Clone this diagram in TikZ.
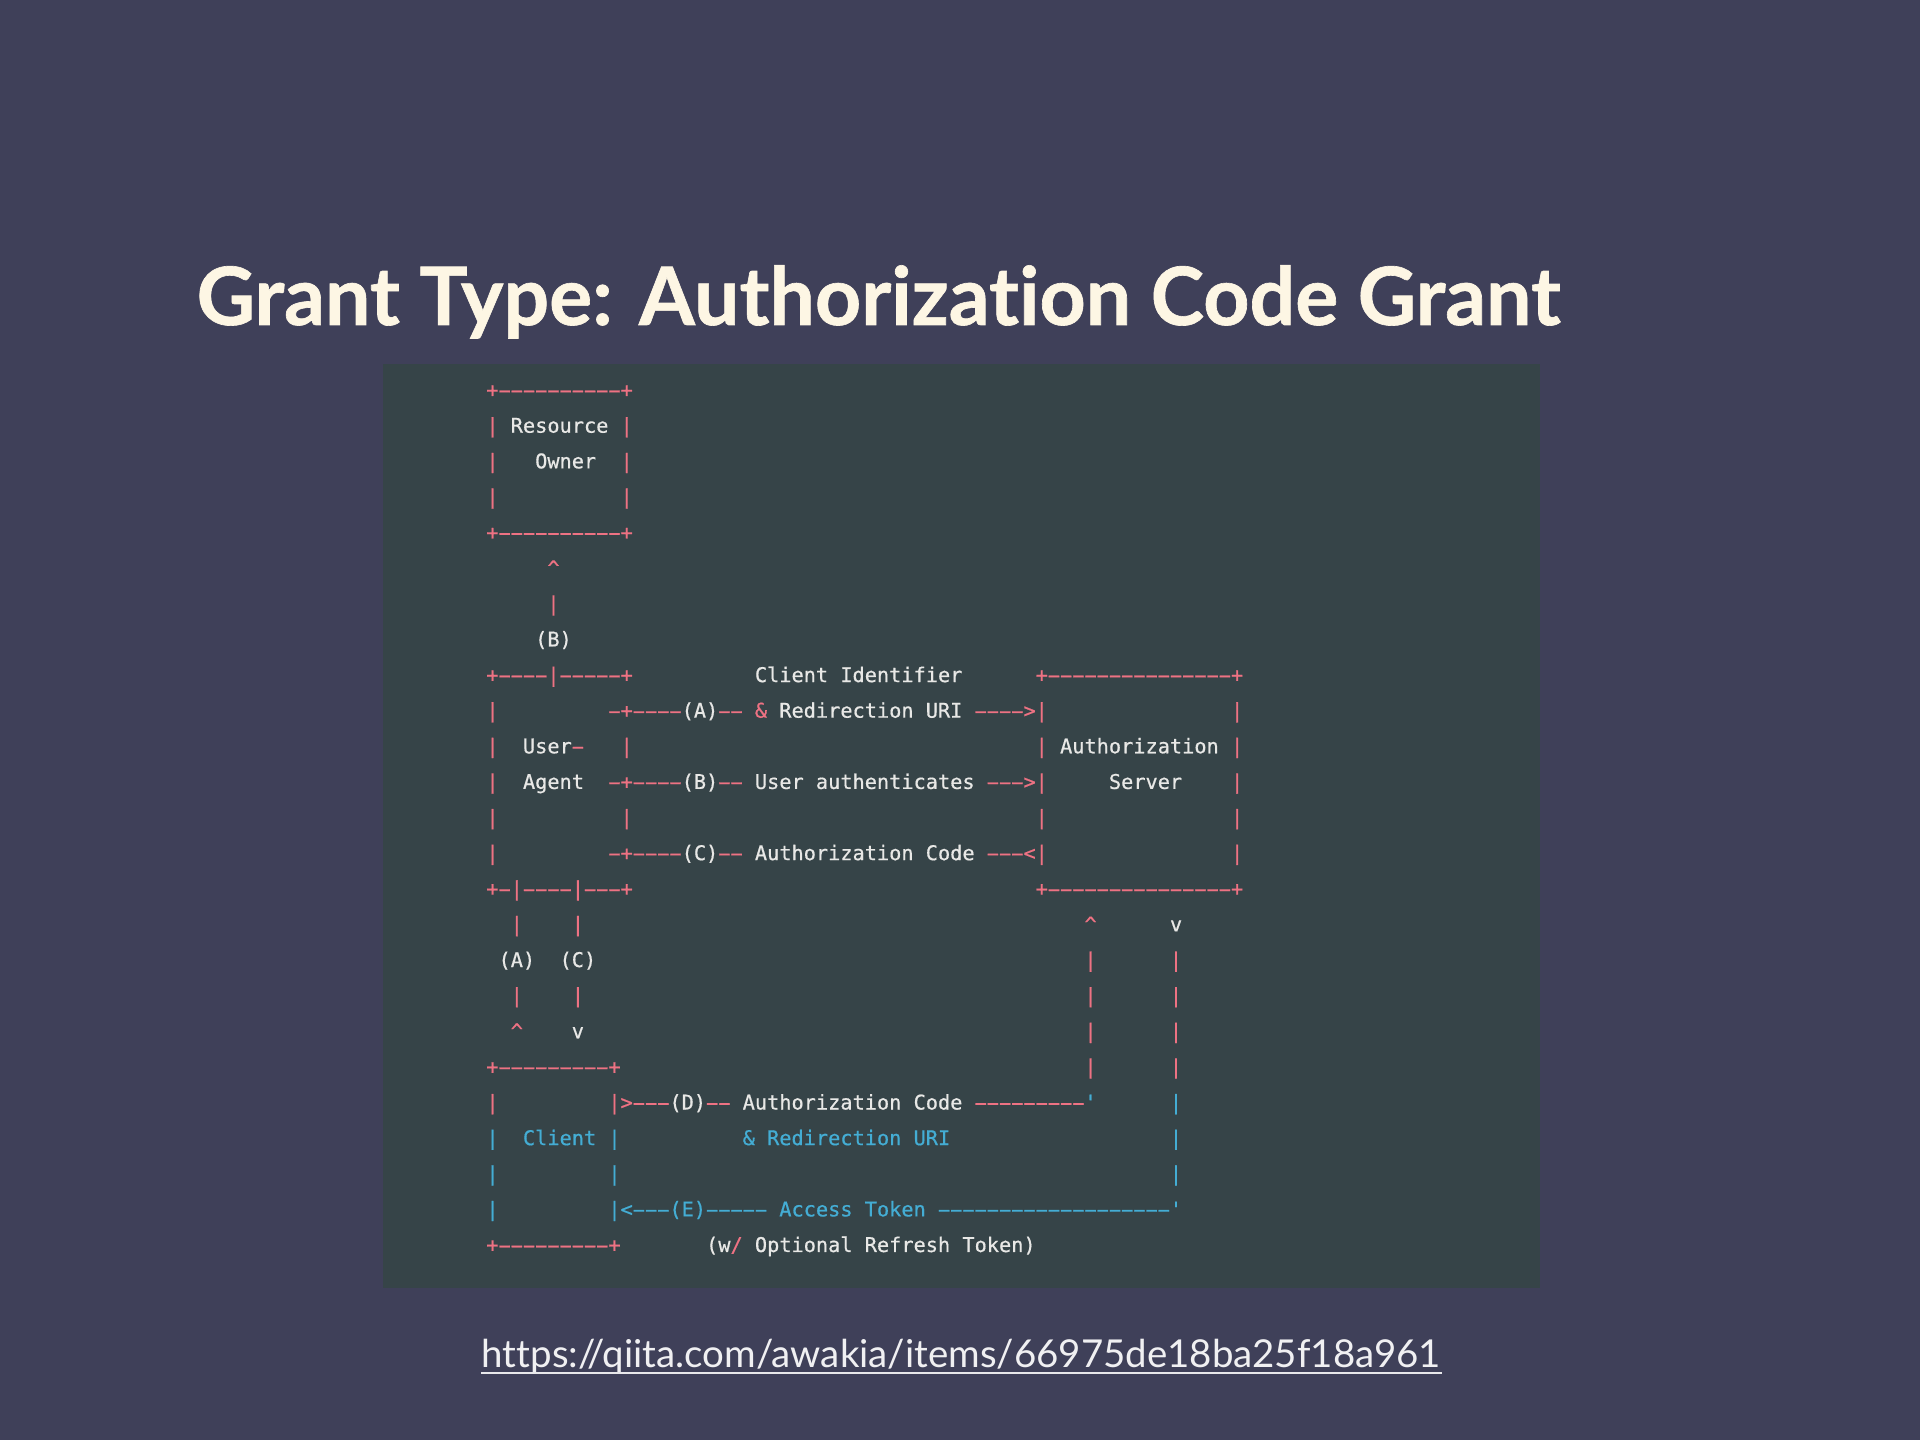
\documentclass[tikz,border=0pt]{standalone}
\usepackage{graphicx}
\usepackage{fontspec}
\setmainfont{Lato}
\newfontfamily\titlefont{Lato}[Ligatures=CommonOff, BoldFeatures={FakeBold=0.8}]
\newfontfamily\codefont{DejaVu Sans Mono}[Ligatures=TeXOff, FakeBold=0.6]
\usetikzlibrary{positioning}

\definecolor{slidebg}{HTML}{3F4059}
\definecolor{codebg}{HTML}{364448}
\definecolor{titlecol}{HTML}{FDF6E4}
\definecolor{pinkcol}{HTML}{EE7283}
\definecolor{textcol}{HTML}{E8E8E6}
\definecolor{bluecol}{HTML}{44ADD4}

% coloured pieces of a code row
\newcommand\pk[1]{\textcolor{pinkcol}{#1}}
\newcommand\wt[1]{\textcolor{textcol}{#1}}
\newcommand\bl[1]{\textcolor{bluecol}{#1}}
\newcommand\sk[1]{\hspace*{#1\fontcharwd\font`0}}
\newcommand\caret{\textasciicircum}
% long hyphen in one character cell, n of them in a row
\newcommand\hy{\makebox[\fontcharwd\font`0]{\scalebox{2}[1]{-}}}
\newcommand\dsh[1]{\foreach \n in {1,...,#1}{\hy}}

\begin{document}
\begin{tikzpicture}[x=0.01cm, y=-0.01cm]

		% Define styles
		\tikzstyle{title} = [anchor=base west, inner sep=0, text=titlecol, font=\fontsize{22.9pt}{27pt}\selectfont\titlefont\bfseries]
		\tikzstyle{coderow} = [anchor=base west, inner sep=0, text=textcol, font=\fontsize{5.766pt}{7pt}\selectfont\codefont]
		\tikzstyle{link} = [anchor=base west, inner sep=0, text=white!92!slidebg, font=\fontsize{10.93pt}{13pt}\selectfont\addfontfeatures{Ligatures=CommonOff}]
		\tikzstyle{underline} = [draw=white!88!slidebg, line width=0.02cm]

		% Slide and code block
		\fill[slidebg] (0,0) rectangle (1920,1440);
		\useasboundingbox (0,0) rectangle (1920,1440);
		\fill[codebg] (383,364) rectangle (1540,1288);

		% Heading
		\node[title] (heading) at (196,325) {Grant Type: Authorization Code Grant};

		% Code rows
		\begin{scope}[shift={(424.6,397.1)}, y=-0.356cm]
		\node[coderow] (r0) at (0,0) {\sk{5}\pk{+\dsh{10}+}};
		\node[coderow] (r1) at (0,1) {\sk{5}\pk{|}\sk{1}\wt{Resource}\sk{1}\pk{|}};
		\node[coderow] (r2) at (0,2) {\sk{5}\pk{|}\sk{3}\wt{Owner}\sk{2}\pk{|}};
		\node[coderow] (r3) at (0,3) {\sk{5}\pk{|}\sk{10}\pk{|}};
		\node[coderow] (r4) at (0,4) {\sk{5}\pk{+\dsh{10}+}};
		\node[coderow] (r5) at (0,5) {\sk{10}\pk{\caret}};
		\node[coderow] (r6) at (0,6) {\sk{10}\pk{|}};
		\node[coderow] (r7) at (0,7) {\sk{9}\wt{(B)}};
		\node[coderow] (r8) at (0,8) {\sk{5}\pk{+\dsh{4}|\dsh{5}+}\sk{10}\wt{Client Identifier}\sk{6}\pk{+\dsh{15}+}};
		\node[coderow] (r9) at (0,9) {\sk{5}\pk{|}\sk{9}\pk{\dsh{1}+\dsh{4}}\wt{(A)}\pk{\dsh{2}}\sk{1}\pk{\&}\sk{1}\wt{Redirection URI}\sk{1}\pk{\dsh{4}>|}\sk{15}\pk{|}};
		\node[coderow] (r10) at (0,10) {\sk{5}\pk{|}\sk{2}\wt{User}\pk{\dsh{1}}\sk{3}\pk{|}\sk{33}\pk{|}\sk{1}\wt{Authorization}\sk{1}\pk{|}};
		\node[coderow] (r11) at (0,11) {\sk{5}\pk{|}\sk{2}\wt{Agent}\sk{2}\pk{\dsh{1}+\dsh{4}}\wt{(B)}\pk{\dsh{2}}\sk{1}\wt{User authenticates}\sk{1}\pk{\dsh{3}>|}\sk{5}\wt{Server}\sk{4}\pk{|}};
		\node[coderow] (r12) at (0,12) {\sk{5}\pk{|}\sk{10}\pk{|}\sk{33}\pk{|}\sk{15}\pk{|}};
		\node[coderow] (r13) at (0,13) {\sk{5}\pk{|}\sk{9}\pk{\dsh{1}+\dsh{4}}\wt{(C)}\pk{\dsh{2}}\sk{1}\wt{Authorization Code}\sk{1}\pk{\dsh{3}<|}\sk{15}\pk{|}};
		\node[coderow] (r14) at (0,14) {\sk{5}\pk{+\dsh{1}|\dsh{4}|\dsh{3}+}\sk{33}\pk{+\dsh{15}+}};
		\node[coderow] (r15) at (0,15) {\sk{7}\pk{|}\sk{4}\pk{|}\sk{41}\pk{\caret}\sk{6}\wt{v}};
		\node[coderow] (r16) at (0,16) {\sk{6}\wt{(A)}\sk{2}\wt{(C)}\sk{40}\pk{|}\sk{6}\pk{|}};
		\node[coderow] (r17) at (0,17) {\sk{7}\pk{|}\sk{4}\pk{|}\sk{41}\pk{|}\sk{6}\pk{|}};
		\node[coderow] (r18) at (0,18) {\sk{7}\pk{\caret}\sk{4}\wt{v}\sk{41}\pk{|}\sk{6}\pk{|}};
		\node[coderow] (r19) at (0,19) {\sk{5}\pk{+\dsh{9}+}\sk{38}\pk{|}\sk{6}\pk{|}};
		\node[coderow] (r20) at (0,20) {\sk{5}\pk{|}\sk{9}\pk{|>\dsh{3}}\wt{(D)}\pk{\dsh{2}}\sk{1}\wt{Authorization Code}\sk{1}\pk{\dsh{9}}\bl{'}\sk{6}\bl{|}};
		\node[coderow] (r21) at (0,21) {\sk{5}\bl{|}\sk{2}\bl{Client}\sk{1}\bl{|}\sk{10}\bl{\& Redirection URI}\sk{18}\bl{|}};
		\node[coderow] (r22) at (0,22) {\sk{5}\bl{|}\sk{9}\bl{|}\sk{45}\bl{|}};
		\node[coderow] (r23) at (0,23) {\sk{5}\bl{|}\sk{9}\bl{|<\dsh{3}(E)\dsh{5}}\sk{1}\bl{Access Token}\sk{1}\bl{\dsh{19}'}};
		\node[coderow] (r24) at (0,24) {\sk{5}\pk{+\dsh{9}+}\sk{7}\wt{(w}\pk{/}\sk{1}\wt{Optional Refresh Token)}};
		\end{scope}

		% Source link
		\node[link] (source) at (481,1368) {https://qiita.com/awakia/items/66975de18ba25f18a961};
		\draw[underline] ([yshift=-0.05cm]source.base west) -- ([yshift=-0.05cm]source.base east);

\end{tikzpicture}
\end{document}
